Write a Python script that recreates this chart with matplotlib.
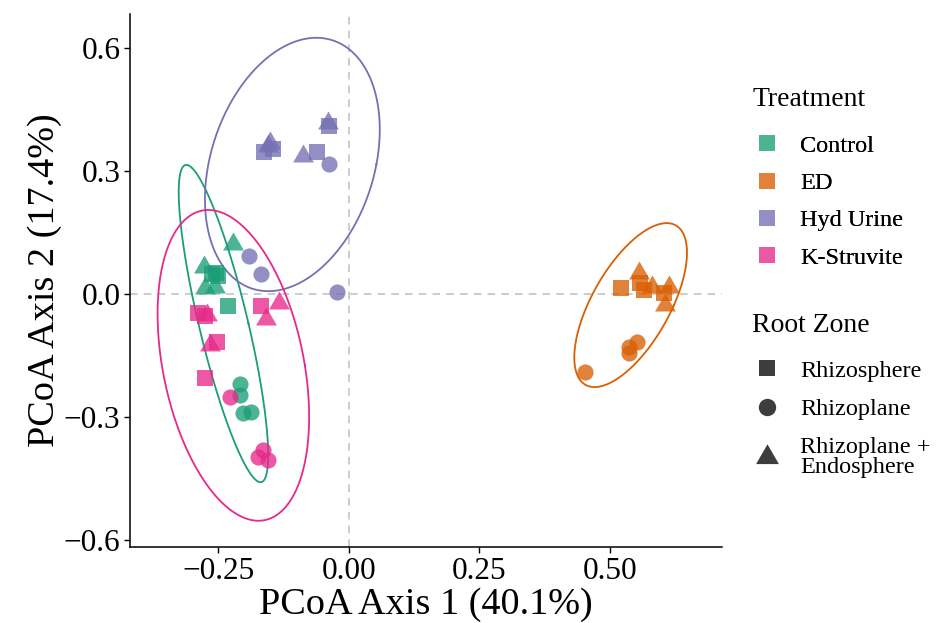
import numpy as np
import matplotlib
matplotlib.use("Agg")
import matplotlib.pyplot as plt
from matplotlib.lines import Line2D
from matplotlib.colors import to_rgb

plt.rcParams['font.family'] = ['Liberation Serif', 'DejaVu Serif']

# Treatments and colours (Dark2)
treatments = ["Control", "ED", "Hyd Urine", "K-Struvite"]
colors = ["#1B9E77", "#D95F02", "#7570B3", "#E7298A"]
zones = ["Rhizosphere", "Rhizoplane", "Rhizoplane +\nEndosphere"]

# PCoA scores: (axis1, axis2) per treatment / root zone
control_sq = [(-0.255, 0.052), (-0.250, 0.044), (-0.262, 0.050), (-0.231, -0.029)]
control_ci = [(-0.208, -0.220), (-0.208, -0.246), (-0.202, -0.290), (-0.188, -0.288)]
control_tr = [(-0.221, 0.122), (-0.277, 0.066), (-0.275, 0.015), (-0.256, 0.017)]

ed_sq = [(0.521, 0.015), (0.558, 0.027), (0.565, 0.010), (0.604, 0.002)]
ed_ci = [(0.537, -0.129), (0.552, -0.117), (0.537, -0.144), (0.452, -0.190)]
ed_tr = [(0.556, 0.051), (0.581, 0.017), (0.613, 0.017), (0.606, -0.027)]

hyd_sq = [(-0.163, 0.346), (-0.146, 0.354), (-0.060, 0.346), (-0.037, 0.410)]
hyd_ci = [(-0.037, 0.317), (-0.192, 0.093), (-0.169, 0.049), (-0.023, 0.005)]
hyd_tr = [(-0.150, 0.368), (-0.154, 0.360), (-0.087, 0.337), (-0.040, 0.417)]

ks_sq = [(-0.288, -0.046), (-0.275, -0.054), (-0.169, -0.029), (-0.252, -0.117), (-0.275, -0.205)]
ks_ci = [(-0.227, -0.251), (-0.165, -0.380), (-0.173, -0.398), (-0.154, -0.405)]
ks_tr = [(-0.271, -0.051), (-0.133, -0.022), (-0.158, -0.061), (-0.265, -0.124)]

# ellipses: centre, half-diameter to top point, half horizontal chord
ell_center = [(-0.240, -0.072), (0.540, -0.027), (-0.108, 0.316), (-0.221, -0.174)]
ell_top = [(-0.071, 0.387), (0.069, 0.200), (0.046, 0.309), (-0.048, 0.379)]
ell_half_width = [0.048, 0.083, 0.161, 0.137]

data = {
    "Control": [control_sq, control_ci, control_tr],
    "ED": [ed_sq, ed_ci, ed_tr],
    "Hyd Urine": [hyd_sq, hyd_ci, hyd_tr],
    "K-Struvite": [ks_sq, ks_ci, ks_tr],
}

tri = [(-1, -0.577), (1, -0.577), (0, 1.155)]
markers = ["s", "o", tri]
sizes = [130, 135, 300]
ALPHA = 0.78


def faded(c, a=ALPHA):
    r = np.array(to_rgb(c))
    return tuple(a * r + (1 - a))


fig = plt.figure(figsize=(9.38, 6.23), dpi=100)
ax = fig.add_axes([130 / 938, 1 - 547 / 623, (722 - 130) / 938, (547 - 14) / 623])

ax.axhline(0, color="#BEBEBE", lw=1.1, ls=(0, (5, 4)), zorder=0)
ax.axvline(0, color="#BEBEBE", lw=1.1, ls=(0, (5, 4)), zorder=0)

for t, c in zip(treatments, colors):
    for pts, m, s in zip(data[t], markers, sizes):
        arr = np.array(pts)
        ax.scatter(arr[:, 0], arr[:, 1], marker=m, s=s, color=c, alpha=ALPHA,
                   linewidths=0, zorder=3)

tt = np.linspace(0, 2 * np.pi, 300)
for c, cen, top, hw in zip(colors, ell_center, ell_top, ell_half_width):
    ex = cen[0] + top[0] * np.sin(tt) + hw * np.cos(tt)
    ey = cen[1] + top[1] * np.sin(tt)
    ax.plot(ex, ey, color=c, lw=1.3, zorder=2)

ax.set_xlim(-0.419, 0.715)
ax.set_ylim(-0.617, 0.683)
ax.set_xticks([-0.25, 0.0, 0.25, 0.5])
ax.set_xticklabels(["\u22120.25", "0.00", "0.25", "0.50"])
ax.set_yticks([-0.6, -0.3, 0.0, 0.3, 0.6])
ax.set_yticklabels(["\u22120.6", "\u22120.3", "0.0", "0.3", "0.6"])
ax.tick_params(labelsize=22.5, length=4, width=1, color="black", labelcolor="black", pad=3)
for side in ["top", "right"]:
    ax.spines[side].set_visible(False)
for side in ["left", "bottom"]:
    ax.spines[side].set_linewidth(1.1)
ax.set_xlabel("PCoA Axis 1 (40.1%)", fontsize=27.5, labelpad=1)
ax.set_ylabel("PCoA Axis 2 (17.4%)", fontsize=27.5, labelpad=1)

# legends (titles placed as separate text)
fig.text(752 / 938, 1 - 100 / 623, "Treatment", fontsize=20, va="center", ha="left")
fig.text(752 / 938, 1 - 326 / 623, "Root Zone", fontsize=20, va="center", ha="left")

h1 = [Line2D([], [], marker="s", ls="", color=faded(c), markersize=11.5,
             markeredgewidth=0) for c in colors]
leg1 = fig.legend(h1, treatments, loc="upper left", bbox_to_anchor=(745 / 938, 1 - 125 / 623),
                  frameon=False, fontsize=17.5, labelspacing=0.63, handlelength=1.0,
                  handletextpad=0.86, borderaxespad=0)
h2 = [Line2D([], [], marker=m, ls="", color="#3D3D3D", markersize=ms, markeredgewidth=0)
      for m, ms in zip(markers, [12, 12.5, 19])]
leg2 = fig.legend(h2, zones, loc="upper left", bbox_to_anchor=(745 / 938, 1 - 350 / 623),
                  frameon=False, fontsize=17.5, labelspacing=0.68, handlelength=1.0,
                  handletextpad=0.86, borderaxespad=0)
for txt in leg2.get_texts():
    txt.set_linespacing(0.95)
fig.add_artist(leg1)

fig.savefig("out.png", dpi=100)
